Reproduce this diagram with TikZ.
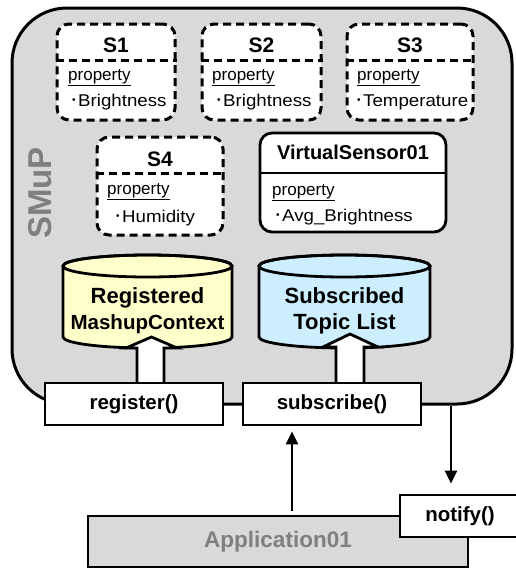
\documentclass[tikz,border=0pt]{standalone}
\usepackage{fontspec}
\setmainfont{Liberation Sans}
\newfontfamily\cjk{Noto Sans CJK JP}
\newfontfamily\widesans[FakeStretch=1.1]{Liberation Sans}
\usetikzlibrary{arrows.meta}

\definecolor{smupgray}{HTML}{D9D9D9}
\definecolor{labelgray}{HTML}{7F7F7F}
\definecolor{dbyellow}{HTML}{FFFFCC}
\definecolor{dbblue}{HTML}{CCEEFF}

\newcommand{\fsz}[1]{\fontsize{#1}{#1}\selectfont}
\newcommand{\itemdot}{{\cjk ･}}

\tikzset{
  sensorbox/.style={draw, line width=3pt, dash pattern=on 8pt off 5pt, rounded corners=12pt,
    fill=white, inner sep=0pt},
  virtualbox/.style={draw, line width=2.8pt, rounded corners=12pt, fill=white, inner sep=0pt},
  headline/.style={line width=3pt, dash pattern=on 8pt off 5pt},
  title/.style={font=\fsz{21}\bfseries, anchor=base, inner sep=0pt},
  prop/.style={font=\fsz{17}, anchor=base west, inner sep=0pt},
  prop item/.style={font=\widesans\fsz{17}, anchor=base west, inner sep=0pt},
  method/.style={draw, line width=2.8pt, fill=white, minimum width=178pt, minimum height=42pt,
    inner sep=0pt, font=\fsz{20.5}\bfseries},
  fat arrow/.style={draw, line width=2.8pt, fill=white, line join=miter},
  arr/.style={line width=2.8pt, -{Triangle[length=13pt,width=12pt]}},
}

\begin{document}
\begin{tikzpicture}[x=1pt, y=-1pt]

\useasboundingbox (0,0) rectangle (516,568);

% SMuP container
\node[draw, line width=3pt, fill=smupgray, rounded corners=55pt, minimum width=500pt,
  minimum height=396pt, inner sep=0pt] (smup) at (262,206) {};
\node[rotate=90, text=labelgray, font=\fsz{33}\bfseries] (smuplabel) at (40,193) {SMuP};

% Sensors
\node[sensorbox, minimum width=118pt, minimum height=96pt] (S1) at (116,72) {};
\node[sensorbox, minimum width=119pt, minimum height=96pt] (S2) at (261.5,72) {};
\node[sensorbox, minimum width=126pt, minimum height=96pt] (S3) at (410,72) {};
\node[sensorbox, minimum width=126pt, minimum height=98pt] (S4) at (160,186) {};
\node[virtualbox, minimum width=186pt, minimum height=99pt] (VS) at (353,182.5) {};

% Header lines
\coordinate (h1) at (0,60);
\coordinate (h2) at (0,173);
\draw[headline] (S1.west |- h1) -- (S1.east |- h1);
\draw[headline] (S2.west |- h1) -- (S2.east |- h1);
\draw[headline] (S3.west |- h1) -- (S3.east |- h1);
\draw[headline] (S4.west |- h2) -- (S4.east |- h2);
\draw[line width=2.8pt] (VS.west |- h2) -- (VS.east |- h2);

% Sensor texts
\node[title] (t1) at (116,52) {S1};
\node[prop] (p1) at (68,80) {\underline{property}};
\node[prop item] (i1) at (69.5,106) {\itemdot Brightness};

\node[title] (t2) at (261.5,52) {S2};
\node[prop] (p2) at (212,80) {\underline{property}};
\node[prop item] (i2) at (214.5,106) {\itemdot Brightness};

\node[title] (t3) at (410,52) {S3};
\node[prop] (p3) at (357,80) {\underline{property}};
\node[prop item] (i3) at (354.5,106) {\itemdot Temperature};

\node[title] (t4) at (160,166) {S4};
\node[prop] (p4) at (107,194) {\underline{property}};
\node[prop item] (i4) at (113.5,222) {\itemdot Humidity};

\node[title, font=\fsz{20}\bfseries] (t5) at (353,159) {VirtualSensor01};
\node[prop] (p5) at (272,195) {\underline{property}};
\node[prop item] (i5) at (273.5,221) {\itemdot Avg\_Brightness};

% Databases
\draw[line width=2.8pt, fill=dbyellow] (63,266) -- (63,337)
  arc[start angle=180, end angle=0, x radius=84.5, y radius=11] -- (232,266)
  arc[start angle=0, end angle=-180, x radius=84.5, y radius=11] -- cycle;
\draw[line width=2.8pt] (147.5,266) ellipse[x radius=84.5, y radius=11];
\node[align=center, font=\fontsize{22}{26}\selectfont\bfseries] (regdb) at (147.5,311)
  {Registered\\\fontsize{20.5}{26}\selectfont MashupContext};

\draw[line width=2.8pt, fill=dbblue] (259,266) -- (259,337)
  arc[start angle=180, end angle=0, x radius=85.5, y radius=11] -- (430,266)
  arc[start angle=0, end angle=-180, x radius=85.5, y radius=11] -- cycle;
\draw[line width=2.8pt] (344.5,266) ellipse[x radius=85.5, y radius=11];
\node[align=center, font=\fontsize{22}{26}\selectfont\bfseries] (subdb) at (344.5,311)
  {Subscribed\\Topic List};

% Block arrows into the databases
\draw[fat arrow] (137,390) -- (137,348) -- (126,348) -- (151.5,337) -- (177,348)
  -- (164,348) -- (164,390) -- cycle;
\draw[fat arrow] (336,390) -- (336,347) -- (323,347) -- (350,334) -- (378,347)
  -- (364,347) -- (364,390) -- cycle;

% Methods
\node[method] (register) at (134,404) {register()};
\node[method] (subscribe) at (332,404) {subscribe()};

% Application
\node[draw, line width=2.8pt, fill=smupgray, minimum width=380pt, minimum height=51pt,
  inner sep=0pt, text=labelgray, font=\fsz{22.5}\bfseries] (app) at (278,541.5) {Application01};
\node[method, minimum width=120pt] (notify) at (460,516) {notify()};

% Calls
\coordinate (callx) at (292,0);
\coordinate (notifyx) at (451,0);
\draw[arr, shorten <=4pt, shorten >=5pt] (app.north -| callx) -- (subscribe.south -| callx);
\draw[arr, shorten >=10pt] (smup.south -| notifyx) -- (notify.north -| notifyx);

\end{tikzpicture}
\end{document}
